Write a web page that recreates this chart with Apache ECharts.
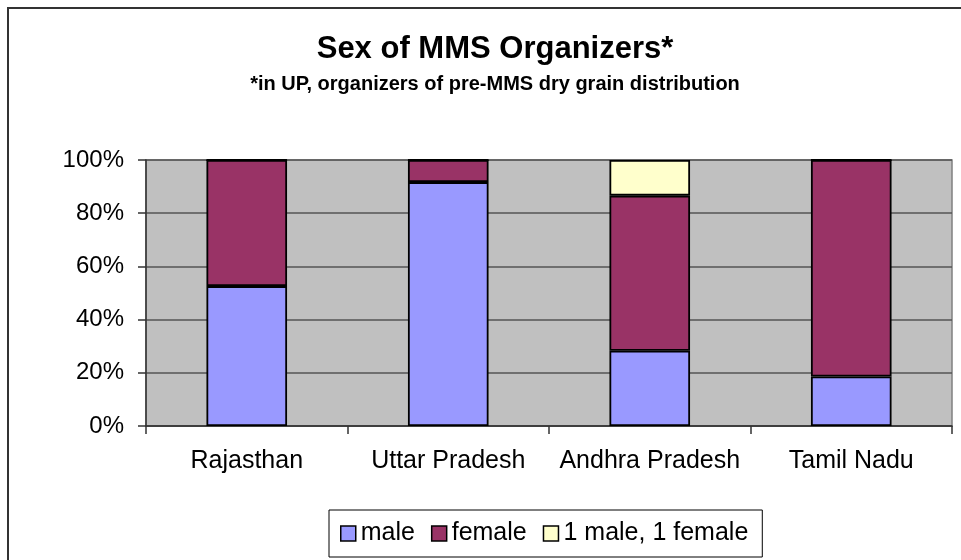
<!DOCTYPE html>
<html>
<head>
<meta charset="utf-8">
<script src="https://cdn.jsdelivr.net/npm/echarts@6/dist/echarts.min.js"></script>
<style>
  html, body { margin: 0; padding: 0; background: #fff; }
  #chart { width: 961px; height: 560px; }
</style>
</head>
<body>
<div id="chart"></div>
<script>
// 数据
var states = ['Rajasthan', 'Uttar Pradesh', 'Andhra Pradesh', 'Tamil Nadu']
var male = [52.6, 91.7, 28.3, 18.6]
var female = [47.4, 8.3, 58.3, 81.4]
var mixed = [0, 0, 13.4, 0]

var myChart = echarts.init(document.getElementById('chart'))

var barStyle = function (color) {
  return { color: color, borderColor: '#000', borderWidth: 1.8 }
}

var option = {
  animation: false,
  textStyle: { fontFamily: 'Liberation Sans, Arial, sans-serif' },
  title: {
    text: 'Sex of MMS Organizers*',
    subtext: '*in UP, organizers of pre-MMS dry grain distribution',
    left: 490,
    textAlign: 'center',
    top: 29,
    itemGap: 9,
    textStyle: { fontSize: 31, fontWeight: 'bold', color: '#000' },
    subtextStyle: { fontSize: 20, fontWeight: 'bold', color: '#000' }
  },
  graphic: [
    {
      type: 'rect',
      shape: { x: 8, y: 8, width: 980, height: 580 },
      style: { fill: 'none', stroke: '#333', lineWidth: 2 },
      silent: true
    }
  ],
  legend: {
    left: 329,
    top: 510,
    borderColor: '#000',
    borderWidth: 1,
    padding: [11, 14, 11, 11],
    icon: 'rect',
    itemWidth: 15,
    itemHeight: 15,
    itemGap: 16,
    textStyle: { fontSize: 25, color: '#000' },
    itemStyle: { borderColor: '#000', borderWidth: 1.5 },
    data: ['male', 'female', '1 male, 1 female']
  },
  grid: {
    left: 146,
    top: 160,
    right: 9,
    bottom: 134,
    show: true,
    backgroundColor: '#c0c0c0',
    borderColor: '#808080',
    borderWidth: 1.5
  },
  xAxis: {
    type: 'category',
    data: states,
    axisLine: { lineStyle: { color: '#333', width: 1.5 } },
    axisTick: { show: true, interval: 0, length: 8, lineStyle: { color: '#333', width: 1.5 } },
    axisLabel: { interval: 0, fontSize: 25, color: '#000', margin: 23 }
  },
  yAxis: {
    type: 'value',
    min: 0,
    max: 100,
    interval: 20,
    axisLine: { show: true, lineStyle: { color: '#333', width: 1.5 } },
    axisTick: { show: true, length: 8, lineStyle: { color: '#333', width: 1.5 } },
    axisLabel: { fontSize: 24, color: '#000', margin: 22, formatter: '{value}%' },
    splitLine: { lineStyle: { color: '#555', width: 1.5 } }
  },
  series: [
    {
      name: 'male',
      type: 'bar',
      stack: 'total',
      barCategoryGap: '60%',
      data: male,
      itemStyle: barStyle('#9999ff')
    },
    {
      name: 'female',
      type: 'bar',
      stack: 'total',
      data: female,
      itemStyle: barStyle('#993366')
    },
    {
      name: '1 male, 1 female',
      type: 'bar',
      stack: 'total',
      data: mixed,
      itemStyle: barStyle('#ffffcc')
    }
  ]
}

myChart.setOption(option)
</script>
</body>
</html>
